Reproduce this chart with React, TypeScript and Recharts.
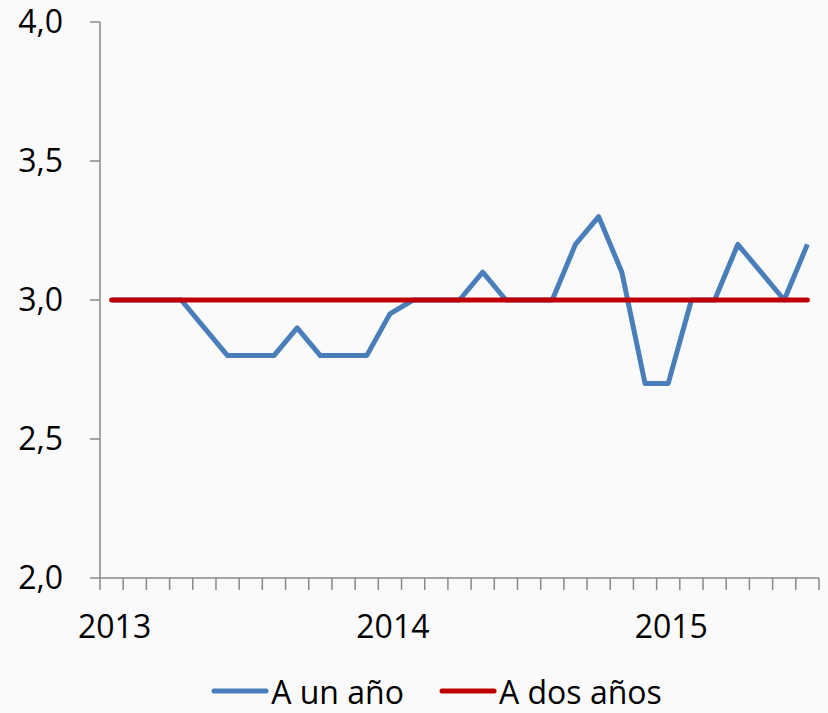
import { LineChart, Line, XAxis, YAxis, Legend } from "recharts";

const months = [
  "2013-01", "2013-02", "2013-03", "2013-04", "2013-05", "2013-06",
  "2013-07", "2013-08", "2013-09", "2013-10", "2013-11", "2013-12",
  "2014-01", "2014-02", "2014-03", "2014-04", "2014-05", "2014-06",
  "2014-07", "2014-08", "2014-09", "2014-10", "2014-11", "2014-12",
  "2015-01", "2015-02", "2015-03", "2015-04", "2015-05", "2015-06",
  "2015-07",
];

const unAno = [
  3.0, 3.0, 3.0, 3.0, 2.9, 2.8, 2.8, 2.8, 2.9, 2.8, 2.8, 2.8,
  2.95, 3.0, 3.0, 3.0, 3.1, 3.0, 3.0, 3.0, 3.2, 3.3, 3.1, 2.7,
  2.7, 3.0, 3.0, 3.2, 3.1, 3.0, 3.2,
];

const dosAnos = [
  3.0, 3.0, 3.0, 3.0, 3.0, 3.0, 3.0, 3.0, 3.0, 3.0, 3.0, 3.0,
  3.0, 3.0, 3.0, 3.0, 3.0, 3.0, 3.0, 3.0, 3.0, 3.0, 3.0, 3.0,
  3.0, 3.0, 3.0, 3.0, 3.0, 3.0, 3.0,
];

const yTicks = [2.0, 2.5, 3.0, 3.5, 4.0];
const yearLabels: Record<number, string> = { 0: "2013", 12: "2014", 24: "2015" };

const data = months.map((m, i) => ({
  month: m,
  pos: i + 0.5,
  unAno: unAno[i],
  dosAnos: dosAnos[i],
}));

const monthTicks = Array.from({ length: months.length + 1 }, (_, i) => i);

const FONT = "'Open Sans', sans-serif";
const BLUE = "#4a7ebb";
const RED = "#c00000";
const AXIS = "#898989";

const CHART_W = 828;
const PLOT_LEFT = 100;
const PLOT_RIGHT = 819;
const STEP = (PLOT_RIGHT - PLOT_LEFT) / months.length;

const YearTick = (props: any) => {
  const { x, y, payload } = props;
  const label = yearLabels[payload.value];
  if (!label) return <g />;
  return (
    <text
      x={x + STEP / 2 + 3}
      y={y}
      dy={48}
      textAnchor="middle"
      fontFamily={FONT}
      fontSize={32}
      fill="#000"
    >
      {label}
    </text>
  );
};

const LegendBox = () => {
  const items = [
    { name: "A un año", color: BLUE },
    { name: "A dos años", color: RED },
  ];
  return (
    <div
      style={{
        display: "flex",
        justifyContent: "center",
        alignItems: "center",
        height: 44,
        fontFamily: FONT,
        fontSize: 32,
        color: "#000",
        paddingLeft: 54,
      }}
    >
      {items.map((it, i) => (
        <div
          key={it.name}
          style={{ display: "flex", alignItems: "center", marginLeft: i ? 35 : 0 }}
        >
          <svg width={58} height={10}>
            <line
              x1={3}
              y1={5}
              x2={55}
              y2={5}
              stroke={it.color}
              strokeWidth={5}
              strokeLinecap="round"
            />
          </svg>
          <span style={{ marginLeft: 2 }}>{it.name}</span>
        </div>
      ))}
    </div>
  );
};

export default function App() {
  return (
    <div
      style={{
        position: "absolute",
        left: 0,
        top: 0,
        width: CHART_W,
        height: 713,
        background: "#fafafa",
      }}
    >
      <LineChart
        width={CHART_W}
        height={713}
        data={data}
        margin={{ top: 22, right: CHART_W - PLOT_RIGHT, left: 0, bottom: 0 }}
      >
        <XAxis
          dataKey="pos"
          type="number"
          domain={[0, months.length]}
          ticks={monthTicks}
          interval={0}
          height={91}
          stroke={AXIS}
          strokeWidth={1.5}
          tickSize={12}
          tickMargin={0}
          tick={<YearTick />}
        />
        <YAxis
          domain={[2, 4]}
          ticks={yTicks}
          width={PLOT_LEFT}
          stroke={AXIS}
          strokeWidth={1.5}
          tickSize={10}
          tickMargin={27}
          tickFormatter={(v: number) => v.toFixed(1).replace(".", ",")}
          tick={{ fill: "#000", fontSize: 32, fontFamily: FONT }}
        />
        <Legend verticalAlign="bottom" content={<LegendBox />} />
        <Line
          dataKey="unAno"
          name="A un año"
          stroke={BLUE}
          strokeWidth={5}
          dot={false}
          strokeLinejoin="round"
          isAnimationActive={false}
        />
        <Line
          dataKey="dosAnos"
          name="A dos años"
          stroke={RED}
          strokeWidth={5}
          dot={false}
          strokeLinecap="round"
          isAnimationActive={false}
        />
      </LineChart>
    </div>
  );
}
